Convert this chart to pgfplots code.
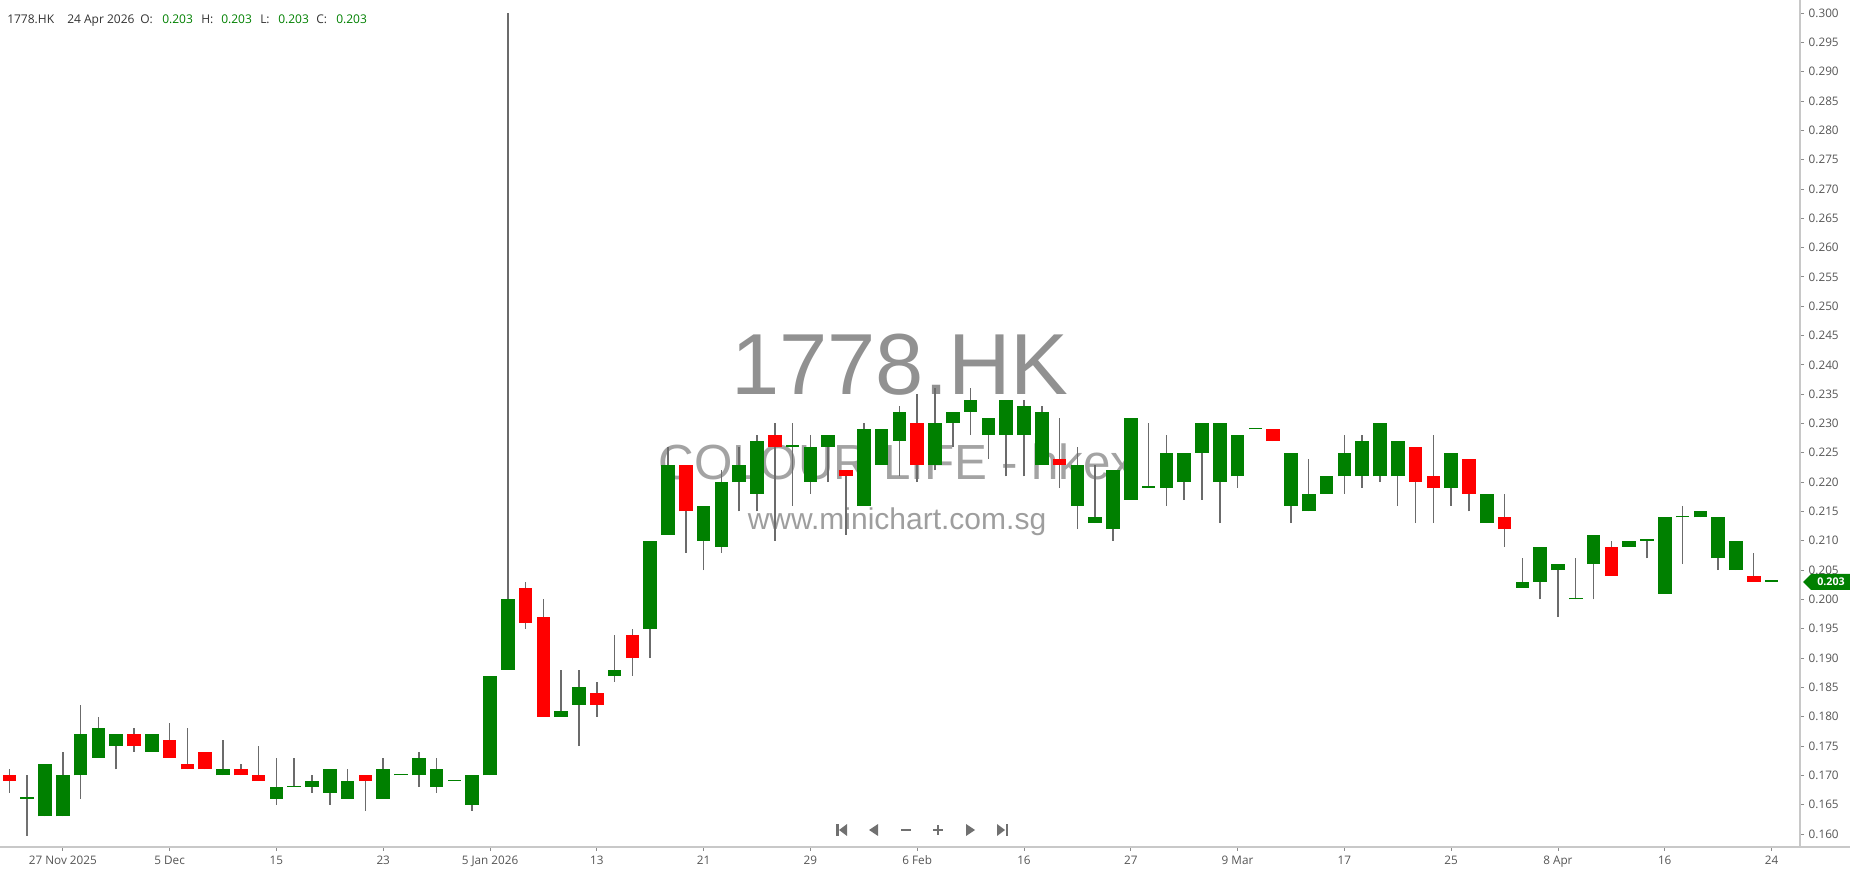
\documentclass[border=0pt]{standalone}
\usepackage{fontspec}
\setmainfont{Open Sans}
\newfontfamily\arial{Liberation Sans}
\usepackage{pgfplots}
\pgfplotsset{compat=1.18}
\usepackage{pgfplotstable}
\definecolor{cgreen}{HTML}{008000}
\definecolor{cred}{HTML}{FF0000}
\definecolor{wick}{HTML}{6B6B6B}
\definecolor{axgray}{HTML}{C8C8C8}
\definecolor{lbl}{HTML}{555555}
\definecolor{navgray}{HTML}{707070}

% up (or flat) candles: index open high low close
\pgfplotstableread{
x o h l c
1 0.166 0.170 0.160 0.166
2 0.163 0.172 0.163 0.172
3 0.163 0.174 0.163 0.170
4 0.170 0.182 0.166 0.177
5 0.173 0.180 0.173 0.178
6 0.175 0.177 0.171 0.177
8 0.174 0.177 0.174 0.177
12 0.170 0.176 0.170 0.171
15 0.166 0.173 0.165 0.168
16 0.168 0.173 0.168 0.168
17 0.168 0.170 0.167 0.169
18 0.167 0.171 0.165 0.171
19 0.166 0.171 0.166 0.169
21 0.166 0.173 0.166 0.171
22 0.170 0.170 0.170 0.170
23 0.170 0.174 0.168 0.173
24 0.168 0.173 0.167 0.171
25 0.169 0.169 0.169 0.169
26 0.165 0.170 0.164 0.170
27 0.170 0.187 0.170 0.187
28 0.188 0.300 0.188 0.200
31 0.180 0.188 0.180 0.181
32 0.182 0.188 0.175 0.185
34 0.187 0.194 0.186 0.188
36 0.195 0.210 0.190 0.210
37 0.211 0.226 0.211 0.223
39 0.210 0.216 0.205 0.216
40 0.209 0.222 0.208 0.220
41 0.220 0.226 0.215 0.223
42 0.218 0.228 0.215 0.227
44 0.226 0.230 0.216 0.226
45 0.220 0.228 0.218 0.226
46 0.226 0.228 0.220 0.228
48 0.216 0.230 0.216 0.229
49 0.223 0.229 0.223 0.229
50 0.227 0.233 0.221 0.232
52 0.223 0.236 0.222 0.230
53 0.230 0.232 0.226 0.232
54 0.232 0.236 0.228 0.234
55 0.228 0.231 0.224 0.231
56 0.228 0.234 0.221 0.234
57 0.228 0.234 0.221 0.233
58 0.223 0.233 0.223 0.232
60 0.216 0.226 0.212 0.223
61 0.213 0.223 0.213 0.214
62 0.212 0.222 0.210 0.222
63 0.217 0.231 0.217 0.231
64 0.219 0.230 0.219 0.219
65 0.219 0.228 0.216 0.225
66 0.220 0.225 0.217 0.225
67 0.225 0.230 0.217 0.230
68 0.220 0.230 0.213 0.230
69 0.221 0.228 0.219 0.228
70 0.229 0.229 0.229 0.229
72 0.216 0.225 0.213 0.225
73 0.215 0.224 0.215 0.218
74 0.218 0.221 0.218 0.221
75 0.221 0.228 0.218 0.225
76 0.221 0.228 0.219 0.227
77 0.221 0.230 0.220 0.230
78 0.221 0.227 0.216 0.227
81 0.219 0.225 0.216 0.225
83 0.213 0.218 0.213 0.218
85 0.202 0.207 0.202 0.203
86 0.203 0.209 0.200 0.209
87 0.205 0.206 0.197 0.206
88 0.200 0.207 0.200 0.200
89 0.206 0.211 0.200 0.211
91 0.209 0.210 0.209 0.210
92 0.210 0.210 0.207 0.210
93 0.201 0.214 0.201 0.214
94 0.214 0.216 0.206 0.214
95 0.214 0.215 0.214 0.215
96 0.207 0.214 0.205 0.214
97 0.205 0.210 0.205 0.210
99 0.203 0.203 0.203 0.203
}\greentab

% down candles
\pgfplotstableread{
x o h l c
0 0.170 0.171 0.167 0.169
7 0.177 0.178 0.174 0.175
9 0.176 0.179 0.173 0.173
10 0.172 0.178 0.171 0.171
11 0.174 0.174 0.171 0.171
13 0.171 0.172 0.170 0.170
14 0.170 0.175 0.169 0.169
20 0.170 0.170 0.164 0.169
29 0.202 0.203 0.195 0.196
30 0.197 0.200 0.180 0.180
33 0.184 0.186 0.180 0.182
35 0.194 0.195 0.187 0.190
38 0.223 0.223 0.208 0.215
43 0.228 0.230 0.210 0.226
47 0.222 0.222 0.211 0.221
51 0.230 0.235 0.220 0.223
59 0.224 0.231 0.219 0.223
71 0.229 0.229 0.227 0.227
79 0.226 0.226 0.213 0.220
80 0.221 0.228 0.213 0.219
82 0.224 0.224 0.215 0.218
84 0.214 0.218 0.209 0.212
90 0.209 0.210 0.204 0.204
98 0.204 0.208 0.203 0.203
}\redtab

\begin{document}
\begin{tikzpicture}
\useasboundingbox (0,0) rectangle (1387.5pt,655.5pt);
% watermark (behind candles)
\begin{scope}[x=0.75pt,y=-0.75pt,shift={(0pt,655.5pt)}]
\node[anchor=base, inner sep=0, text=black!43] at (900,395) {\arial\fontsize{65}{70}\selectfont 1778.HK};
\node[anchor=base, inner sep=0, text=black!36] at (897,480) {\arial\fontsize{37}{40}\selectfont COLOUR LIFE - hkex};
\node[anchor=base, inner sep=0, text=black!38] at (897,530) {\arial\fontsize{22.5}{25}\selectfont www.minichart.com.sg};
\end{scope}
\begin{axis}[
  at={(0pt,20.25pt)}, anchor=south west,
  width=1350pt, height=635.25pt, scale only axis,
  xmin=-0.53, xmax=100.6, ymin=0.15778, ymax=0.30222,
  axis x line*=bottom, axis y line*=right,
  axis line style={-, draw=axgray, line width=0.9pt},
  xtick={3,9,15,21,27,33,39,45,51,57,63,69,75,81,87,93,99},
  xticklabels={27 Nov 2025,5 Dec,15,23,5 Jan 2026,13,21,29,6 Feb,16,27,9 Mar,17,25,8 Apr,16,24},
  ytick={0.160,0.165,0.170,0.175,0.180,0.185,0.190,0.195,0.200,0.205,0.210,0.215,0.220,0.225,0.230,0.235,0.240,0.245,0.250,0.255,0.260,0.265,0.270,0.275,0.280,0.285,0.290,0.295,0.300},
  yticklabels={0.160,0.165,0.170,0.175,0.180,0.185,0.190,0.195,0.200,0.205,0.210,0.215,0.220,0.225,0.230,0.235,0.240,0.245,0.250,0.255,0.260,0.265,0.270,0.275,0.280,0.285,0.290,0.295,0.300},
  tick align=outside, major tick length=3pt,
  tick style={draw=black!45, line width=0.6pt},
  ticklabel style={font=\fontsize{8.8}{10}\selectfont, text=lbl},
  /pgf/number format/assume math mode=true,
  candle/.style={draw=none, mark=none, error bars/.cd, y dir=plus, y explicit, error mark=none},
]
% wicks
\addplot[candle, error bar style={line width=1.1pt, draw=wick}]
  table[x=x, y=l, y error plus expr=\thisrow{h}-\thisrow{l}] {\greentab};
\addplot[candle, error bar style={line width=1.1pt, draw=wick}]
  table[x=x, y=l, y error plus expr=\thisrow{h}-\thisrow{l}] {\redtab};
% bodies
\addplot[candle, error bar style={line width=10.2pt, draw=cgreen}]
  table[x=x, y=o, y error plus expr={max(\thisrow{c}-\thisrow{o},0.00026)}] {\greentab};
\addplot[candle, error bar style={line width=10.2pt, draw=cred}]
  table[x=x, y=c, y error plus expr={\thisrow{o}-\thisrow{c}}] {\redtab};
\end{axis}
% overlays in pixel coordinates (origin top-left)
\begin{scope}[x=0.75pt,y=-0.75pt,shift={(0pt,655.5pt)}]
\draw[axgray, line width=0.9pt] (1800,847) -- (1850,847);
\draw[black!55, line width=0.8pt] (27,820) -- (27,836);
% header
\begin{scope}[every node/.style={anchor=base west, inner sep=0, font=\fontsize{9}{10}\selectfont}]
\node[text=black!80] at (7,23.5) {1778.HK};
\node[text=black!80] at (67,23.5) {24 Apr 2026};
\node[text=black!80] at (140,23.5) {O:};
\node[text=cgreen] at (162,23.5) {0.203};
\node[text=black!80] at (201,23.5) {H:};
\node[text=cgreen] at (221,23.5) {0.203};
\node[text=black!80] at (260,23.5) {L:};
\node[text=cgreen] at (278,23.5) {0.203};
\node[text=black!80] at (316,23.5) {C:};
\node[text=cgreen] at (336,23.5) {0.203};
\end{scope}
% last price tag
\fill[cgreen] (1803,582) -- (1811,574) -- (1850,574) -- (1850,590) -- (1811,590) -- cycle;
\node[text=white, inner sep=0, font=\fontsize{8}{9}\selectfont\bfseries] at (1831,582) {0.203};
% navigation icons
\fill[navgray] (836,824) rectangle (838.5,836);
\fill[navgray] (839,830) -- (847,824) -- (847,836) -- cycle;
\fill[navgray] (869,830) -- (878,824) -- (878,836) -- cycle;
\fill[navgray] (901,829) rectangle (911,831);
\fill[navgray] (933,829) rectangle (943,831);
\fill[navgray] (937,825) rectangle (939,835);
\fill[navgray] (966,824) -- (975,830) -- (966,836) -- cycle;
\fill[navgray] (997,824) -- (1005,830) -- (997,836) -- cycle;
\fill[navgray] (1005.5,824) rectangle (1008,836);
\end{scope}
\end{tikzpicture}
\end{document}
